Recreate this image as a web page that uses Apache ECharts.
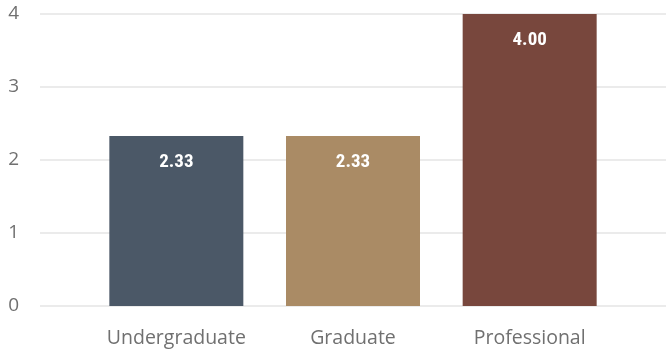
<!DOCTYPE html>
<html>
<head>
<meta charset="utf-8">
<script src="https://cdn.jsdelivr.net/npm/echarts@6/dist/echarts.min.js"></script>
<style>
  html, body { margin: 0; padding: 0; background: #fff; }
  #box { width: 666px; height: 355px; }
</style>
</head>
<body>
<div id="box"></div>
<script>
  // data
  var categories = ['Undergraduate', 'Graduate', 'Professional'];
  var values = [2.33, 2.33, 4.00];
  var barColors = ['#4b5867', '#aa8b65', '#78473d'];
  var yTicks = [0, 1, 2, 3, 4];

  var myChart = echarts.init(document.getElementById('box'));

  var option = {
    animation: false,
    grid: [
      // wide grid: only gridlines + y labels
      { left: 40, right: 0, top: 14, bottom: 49 },
      // narrow grid: the bars
      { left: 88, right: 48, top: 14, bottom: 49 }
    ],
    xAxis: [
      { gridIndex: 0, type: 'value', show: false },
      {
        gridIndex: 1,
        type: 'category',
        data: categories,
        axisLine: { show: false },
        axisTick: { show: false },
        axisLabel: {
          interval: 0,
          hideOverlap: false,
          color: '#707070',
          fontFamily: 'Open Sans',
          fontSize: 19.5,
          margin: 22
        }
      }
    ],
    yAxis: [
      {
        gridIndex: 0,
        type: 'value',
        min: yTicks[0],
        max: yTicks[yTicks.length - 1],
        interval: 1,
        axisLine: { show: false },
        axisTick: { show: false },
        splitLine: { lineStyle: { color: '#ebebeb', width: 2 } },
        axisLabel: {
          color: '#707070',
          fontFamily: 'Open Sans',
          fontSize: 19,
          margin: 21
        }
      },
      {
        gridIndex: 1,
        type: 'value',
        min: yTicks[0],
        max: yTicks[yTicks.length - 1],
        show: false,
        splitLine: { show: false }
      }
    ],
    series: [{
      type: 'bar',
      xAxisIndex: 1,
      yAxisIndex: 1,
      barWidth: 134,
      data: values.map(function (v, i) {
        return { value: v, itemStyle: { color: barColors[i] } };
      }),
      label: {
        show: true,
        position: 'insideTop',
        distance: 17,
        color: '#ffffff',
        fontFamily: 'Roboto Condensed, Roboto, DejaVu Sans Condensed',
        fontWeight: 'bold',
        fontSize: 19,
        formatter: function (p) { return p.value.toFixed(2); }
      }
    }]
  };

  myChart.setOption(option);
</script>
</body>
</html>
